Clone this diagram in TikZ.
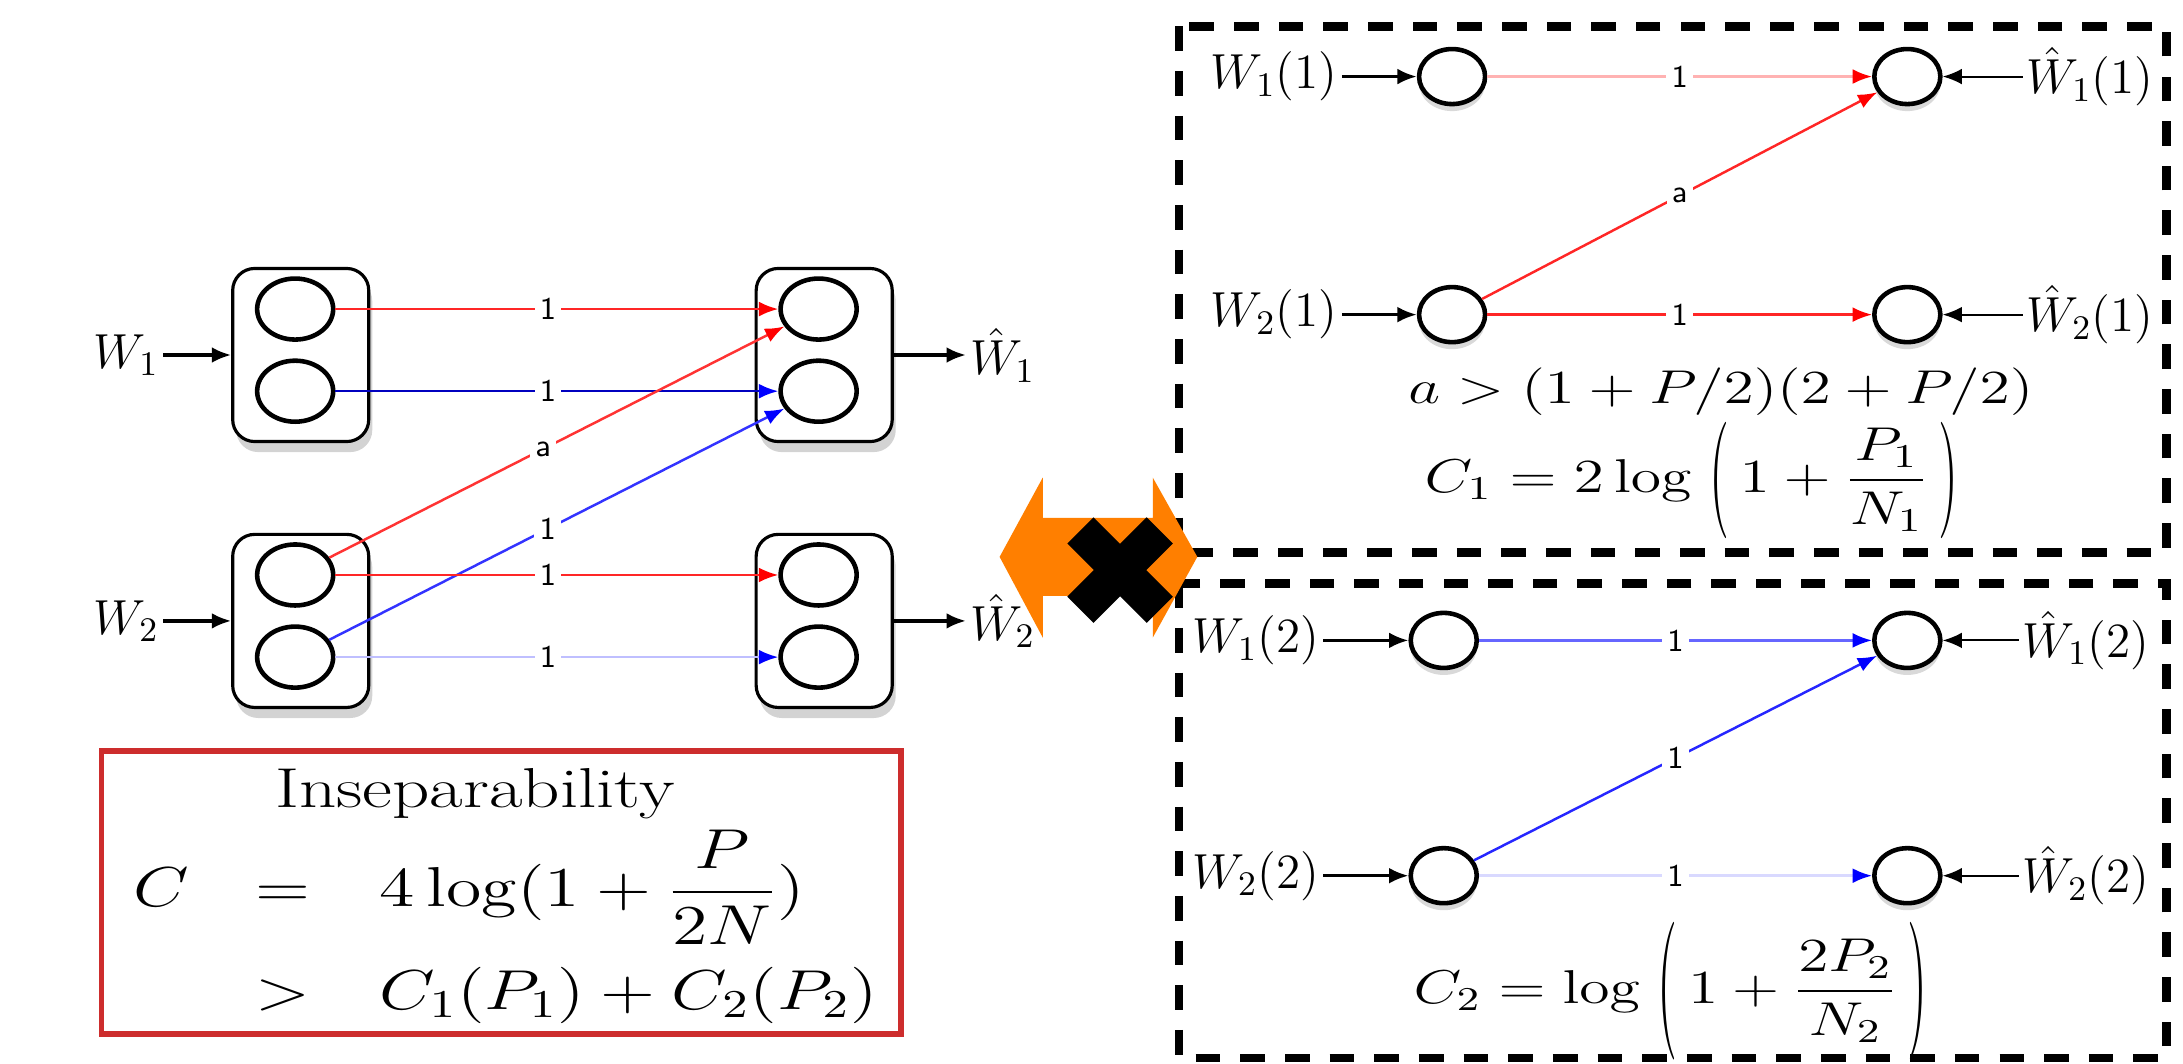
\RequirePackage{fix-cm}
\documentclass[tikz,border=0pt]{standalone}
\usepackage{amsmath}
\usepackage{graphicx}
\usepackage{xcolor}
\usepackage{tikz}
\usetikzlibrary{positioning, arrows.meta, shapes.geometric, shadows}

\definecolor{boxred}{RGB}{205,45,45}
\definecolor{flag}{RGB}{255,127,0}

% the source is stretched sideways
\newcommand{\wide}[2][1.3]{\scalebox{#1}[1]{#2}}
% tall thin parentheses
\newcommand{\lpar}[1]{\mathopen{\vcenter{\hbox{\scalebox{0.85}[#1]{$($}}}}}
\newcommand{\rpar}[1]{\mathclose{\vcenter{\hbox{\scalebox{0.85}[#1]{$)$}}}}}

\tikzset{
  cell/.style={ellipse, draw, line width=1.3pt, fill=white, minimum width=0.76cm, minimum height=0.61cm, inner sep=0pt},
  relay/.style={cell, minimum width=0.66cm, minimum height=0.55cm,
    drop shadow={shadow xshift=0pt, shadow yshift=-2pt, opacity=0.3}},
  block/.style={draw, line width=0.9pt, rounded corners=0.22cm, fill=white,
    minimum width=1.36cm, minimum height=1.73cm,
    drop shadow={shadow xshift=1pt, shadow yshift=-3pt, opacity=0.35}},
  lbl/.style={inner sep=1pt, font=\fontsize{14}{17}\selectfont},
  eqn/.style={inner sep=0pt, font=\fontsize{13.5}{16}\selectfont},
  sumtext/.style={inner sep=0pt, font=\fontsize{16}{19}\selectfont},
  wt/.style={fill=white, inner sep=1.5pt, font=\fontsize{9}{10}\selectfont\sffamily},
  feed/.style={line width=0.9pt, -{Latex[length=5.5pt, width=4.5pt]}},
  link/.style 2 args={draw=#1, line width=0.7pt, -{Latex[length=5.5pt, width=4.2pt, color=#2]}},
  frame/.style={line width=2.4pt, dash pattern=on 7pt off 5.7pt},
}

\begin{document}
\begin{tikzpicture}[x=0.013922cm, y=-0.013922cm]
\useasboundingbox (0,0) rectangle (1568,764);
% left: joint encoders and decoders
\node[block] (enc1) at (216,255) {};
\node[block] (enc2) at (216,446) {};
\node[block] (dec1) at (592,255) {};
\node[block] (dec2) at (592,446) {};
\foreach \b/\x/\y in {enc1/212/222, enc2/212/413, dec1/588/222, dec2/588/413} {
  \node[cell] (\b-a) at (\x,\y) {};
  \node[cell] (\b-b) at (\x,\y+59) {};
}
\draw[link={red!85}{red}] (enc1-a) -- node[wt, pos=0.48]{1} (dec1-a);
\draw[link={blue!75!black}{blue}] (enc1-b) -- node[wt, pos=0.48]{1} (dec1-b);
\draw[link={red!80}{red}] (enc2-a) -- node[wt, pos=0.47]{a} (dec1-a);
\draw[link={blue!80}{blue}] (enc2-b) -- node[wt, pos=0.48]{1} (dec1-b);
\draw[link={red!85}{red}] (enc2-a) -- node[wt, pos=0.48]{1} (dec2-a);
\draw[link={blue!25}{blue}] (enc2-b) -- node[wt, pos=0.48]{1} (dec2-b);
\node[lbl, left=0.68cm of enc1] (w1) {$W_1$};
\node[lbl, left=0.68cm of enc2] (w2) {$W_2$};
\node[lbl, right=0.72cm of dec1] (hw1) {$\hat{W}_1$};
\node[lbl, right=0.72cm of dec2] (hw2) {$\hat{W}_2$};
\draw[feed] (w1) -- (enc1);
\draw[feed] (w2) -- (enc2);
\draw[feed] (dec1) -- (hw1);
\draw[feed] (dec2) -- (hw2);

% summary box
\node[draw=boxred, line width=1.6pt, minimum width=7.99cm, minimum height=2.83cm] (summary) at (360,641) {};
\node[sumtext, anchor=base] (ins) at (341,580) {\wide[1.3]{Inseparability}};
\node[sumtext, anchor=base] (lhs) at (116,651) {\wide[1.28]{$C$}};
\node[sumtext, anchor=base] (eq1) at (203,651) {\wide[1.28]{$=$}};
\node[sumtext, anchor=base west] (rhs1) at (272,651) {\wide[1.28]{$4\log(1+\dfrac{P}{2N})$}};
\node[sumtext, anchor=base] (eq2) at (203,725) {\wide[1.28]{$>$}};
\node[sumtext, anchor=base west] (rhs2) at (272,725) {\wide[1.28]{$C_1(P_1)+C_2(P_2)$}};

% right: separated channels
\draw[frame] (847,19) rectangle (1556,397);
\draw[frame] (847,419) rectangle (1556,760);

% channel 1
\node[relay] (u1) at (1043,55) {};
\node[relay] (v1) at (1370,55) {};
\node[relay] (u2) at (1043,226) {};
\node[relay] (v2) at (1370,226) {};
\draw[link={red!30}{red}] (u1) -- node[wt]{1} (v1);
\draw[link={red!85}{red}] (u2) -- node[wt]{a} (v1);
\draw[link={red!85}{red}] (u2) -- node[wt]{1} (v2);
\node[lbl, left=0.75cm of u1] (in11) {$W_1(1)$};
\node[lbl, left=0.75cm of u2] (in21) {$W_2(1)$};
\node[lbl, right=0.8cm of v1] (out11) {$\hat{W}_1(1)$};
\node[lbl, right=0.8cm of v2] (out21) {$\hat{W}_2(1)$};
\draw[feed] (in11) -- (u1);
\draw[feed] (in21) -- (u2);
\draw[feed, line width=0.6pt] (out11) -- (v1);
\draw[feed, line width=0.6pt] (out21) -- (v2);
\node[eqn, anchor=base] (cond) at (1236,290) {\wide{$a > (1+P/2)(2+P/2)$}};
\node[eqn] (cap1) at (1215,345) {\wide{$C_1 = 2\log\;\lpar{2.45}\,1+\dfrac{P_1}{N_1}\,\rpar{2.45}$}};

% channel 2
\node[relay] (x1) at (1037,460) {};
\node[relay] (y1) at (1370,460) {};
\node[relay] (x2) at (1037,629) {};
\node[relay] (y2) at (1370,629) {};
\draw[link={blue!60}{blue}] (x1) -- node[wt]{1} (y1);
\draw[link={blue!85}{blue}] (x2) -- node[wt]{1} (y1);
\draw[link={blue!15}{blue}] (x2) -- node[wt]{1} (y2);
\node[lbl, left=0.85cm of x1] (in12) {$W_1(2)$};
\node[lbl, left=0.85cm of x2] (in22) {$W_2(2)$};
\node[lbl, right=0.76cm of y1] (out12) {$\hat{W}_1(2)$};
\node[lbl, right=0.76cm of y2] (out22) {$\hat{W}_2(2)$};
\draw[feed] (in12) -- (x1);
\draw[feed] (in22) -- (x2);
\draw[feed, line width=0.6pt] (out12) -- (y1);
\draw[feed, line width=0.6pt] (out22) -- (y2);
\node[eqn] (cap2) at (1200,712) {\wide{$C_2 = \log\;\lpar{2.9}\,1+\dfrac{2P_2}{N_2}\,\rpar{2.9}$}};

% not equivalent
\fill[flag] (718,400) -- (749,343) -- (749,372) -- (828,372) -- (828,343) -- (860,400)
  -- (828,458) -- (828,428) -- (749,428) -- (749,458) -- cycle;
\draw[line width=0.37cm] (776,381) -- (833,438);
\draw[line width=0.37cm] (776,438) -- (833,381);
\end{tikzpicture}
\end{document}
